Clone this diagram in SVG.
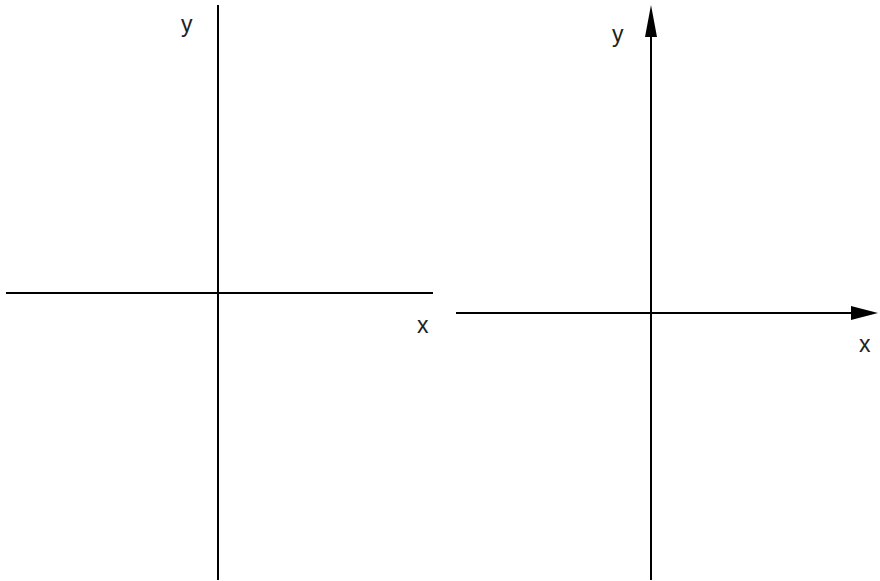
<svg xmlns="http://www.w3.org/2000/svg" width="880" height="581" viewBox="0 0 880 581">
<style>
.ax{stroke:#000;stroke-width:2;fill:none}
.lbl{font-family:"Liberation Sans",Arial,sans-serif;font-size:23px;fill:#222}
</style>
<rect width="880" height="581" fill="#fff"/>
<g id="connectors">
<line class="ax" x1="218" y1="5" x2="218" y2="580"/>
<line class="ax" x1="6" y1="293" x2="433" y2="293"/>
<line class="ax" x1="651" y1="30" x2="651" y2="580"/>
<line class="ax" x1="456" y1="313" x2="855" y2="313"/>
<polygon points="651,5 657,37 645,37" fill="#000"/>
<polygon points="878,313 851,306 851,320" fill="#000"/>
</g>
<g id="left-y"><text class="lbl" x="181" y="32">y</text></g>
<g id="left-x"><text class="lbl" x="417" y="333">x</text></g>
<g id="right-y"><text class="lbl" x="612" y="42">y</text></g>
<g id="right-x"><text class="lbl" x="859" y="352">x</text></g>
</svg>
